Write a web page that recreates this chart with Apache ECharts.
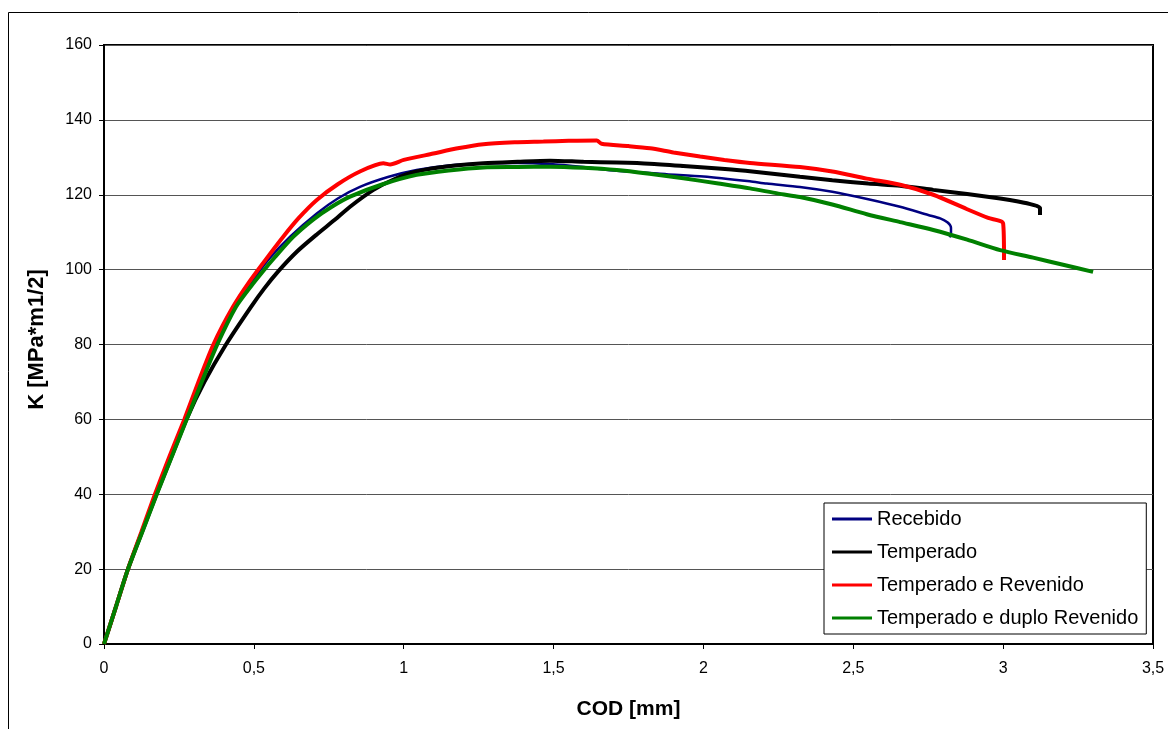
<!DOCTYPE html>
<html lang="pt">
<head>
	<meta charset="UTF-8">
	<title>K x COD</title>
</head>
<style>
	html, body { margin: 0; padding: 0; background: #fff; }
	#main{
		width: 1168px;
		height: 729px;
	}
</style>
<body>
	<div id="main"></div>
	<script src="https://cdn.jsdelivr.net/npm/echarts@6/dist/echarts.min.js"></script>
	<script>
		// pontos [COD mm, K MPa*m1/2]
		var recebido = [
			[0,0],[0.04,10],[0.08,20],[0.125,30],[0.172,40],[0.22,50],[0.27,60],[0.32,70],[0.372,80],[0.438,90],
			[0.5,97.5],[0.55,102.8],[0.621,108.8],[0.71,115],[0.78,119],[0.854,122.1],[0.95,124.8],[1.043,126.6],
			[1.15,127.8],[1.266,128.4],[1.38,128.5],[1.488,128.2],[1.6,127.4],[1.711,126.4],[1.877,125.5],
			[2.0,124.9],[2.155,123.6],[2.211,123],[2.322,122.1],[2.43,120.8],[2.55,118.8],[2.656,116.8],
			[2.75,114.6],[2.79,113.7],[2.815,112.6],[2.826,111.2],[2.826,109.8],[2.822,108.6]
		];
		var temperado = [
			[0,0],[0.04,10],[0.08,20],[0.127,30],[0.175,40],[0.225,50],[0.275,60],[0.335,70],[0.407,80],[0.49,90],
			[0.535,95],[0.582,99.6],[0.645,104.9],[0.71,109.4],[0.77,113.3],[0.821,116.8],[0.899,121.3],[0.97,124.2],
			[1.043,126.2],[1.15,127.6],[1.266,128.4],[1.38,128.8],[1.488,129.1],[1.6,128.8],[1.711,128.6],
			[1.82,128.3],[1.933,127.7],[2.05,127],[2.155,126.3],[2.322,124.8],[2.43,123.9],[2.55,123],[2.656,122.4],
			[2.767,121.3],[2.88,120.2],[2.99,119],[3.05,118.2],[3.1,117.3],[3.123,116.5],[3.123,114.6]
		];
		var revenido = [
			[0,0],[0.04,10],[0.08,20],[0.125,30],[0.17,40],[0.218,50],[0.268,60],[0.315,70],[0.365,80],[0.43,90],
			[0.487,97],[0.55,103.8],[0.598,108.8],[0.65,113.8],[0.71,118.6],[0.78,122.8],[0.854,126.2],
			[0.932,128.4],[0.955,128.1],[1.0,129.3],[1.099,131],[1.18,132.4],[1.266,133.5],[1.37,134],[1.466,134.2],
			[1.55,134.4],[1.644,134.5],[1.66,133.6],[1.75,133],[1.822,132.4],[1.9,131.3],[1.989,130.2],[2.07,129.3],
			[2.155,128.5],[2.322,127.4],[2.43,126.2],[2.545,124.3],[2.66,122.6],[2.767,120],[2.878,116.2],
			[2.95,113.8],[3.0,112.3],[3.003,102.6]
		];
		var duploRevenido = [
			[0,0],[0.04,10],[0.08,20],[0.128,30],[0.176,40],[0.226,50],[0.276,60],[0.326,70],[0.378,80],[0.44,90],
			[0.49,95.5],[0.53,99.5],[0.57,103.3],[0.632,108.8],[0.7,113.5],[0.76,116.8],[0.821,119.5],[0.93,122.8],
			[1.043,125.3],[1.15,126.5],[1.266,127.3],[1.38,127.4],[1.488,127.5],[1.6,127.2],[1.711,126.6],
			[1.82,125.6],[1.933,124.4],[2.05,123],[2.155,121.7],[2.25,120.3],[2.322,119.4],[2.43,117.4],
			[2.545,114.8],[2.656,112.7],[2.767,110.6],[2.88,108],[2.99,105.2],[3.1,103.2],[3.2,101.3],[3.3,99.4]
		];
		var nomes = ['Recebido', 'Temperado', 'Temperado e Revenido', 'Temperado e duplo Revenido'];
		var cores = ['#000080', '#000000', '#ff0000', '#008000'];
		var dados = [recebido, temperado, revenido, duploRevenido];

		var fonte = "'Liberation Sans', Arial, sans-serif";
		var myChart = echarts.init(document.getElementById('main'));

		var series = [];
		for (var i = 0; i < dados.length; i++) {
			series.push({
				name: nomes[i],
				type: 'line',
				data: dados[i],
				showSymbol: false,
				smooth: 0.25,
				color: cores[i],
				lineStyle: { width: i === 0 ? 2.5 : 4, color: cores[i] }
			});
		}

		var option = {
			animation: false,
			backgroundColor: '#fff',
			textStyle: { fontFamily: fonte },
			graphic: [{
				type: 'rect',
				shape: { x: 8.5, y: 12.5, width: 1200, height: 800 },
				style: { fill: 'none', stroke: '#000', lineWidth: 1 },
				silent: true
			}],
			grid: {
				left: 104, top: 45, right: 15, bottom: 85,
				show: true, borderColor: '#000', borderWidth: 2
			},
			legend: {
				orient: 'vertical',
				left: 824, top: 503,
				padding: [6, 8, 6, 8],
				itemWidth: 40, itemHeight: 3,
				itemGap: 13,
				icon: 'rect',
				backgroundColor: '#fff',
				borderColor: '#000', borderWidth: 1,
				textStyle: { fontSize: 20, lineHeight: 20, color: '#000', fontFamily: fonte },
				data: nomes
			},
			xAxis: {
				type: 'value',
				min: 0, max: 3.5, interval: 0.5,
				name: 'COD [mm]',
				nameLocation: 'middle',
				nameGap: 55,
				nameTextStyle: { fontSize: 21, fontWeight: 'bold', color: '#000', fontFamily: fonte },
				axisLine: { lineStyle: { color: '#000', width: 2 } },
				axisTick: { show: true, length: 5, lineStyle: { color: '#000' } },
				axisLabel: {
					fontSize: 16, color: '#000', margin: 17,
					formatter: function (v) { return String(v).replace('.', ','); }
				},
				splitLine: { show: false }
			},
			yAxis: {
				type: 'value',
				min: 0, max: 160, interval: 20,
				name: 'K [MPa*m1/2]',
				nameLocation: 'middle',
				nameGap: 56,
				nameTextStyle: { fontSize: 22, fontWeight: 'bold', color: '#000', fontFamily: fonte, padding: [0, 0, 0, 10] },
				axisLine: { lineStyle: { color: '#000', width: 2 } },
				axisTick: { show: true, length: 5, lineStyle: { color: '#000' } },
				axisLabel: { fontSize: 16, color: '#000', margin: 12 },
				splitLine: { show: true, lineStyle: { color: '#555', width: 1 } }
			},
			series: series
		};
		myChart.setOption(option);
	</script>
</body>
</html>
